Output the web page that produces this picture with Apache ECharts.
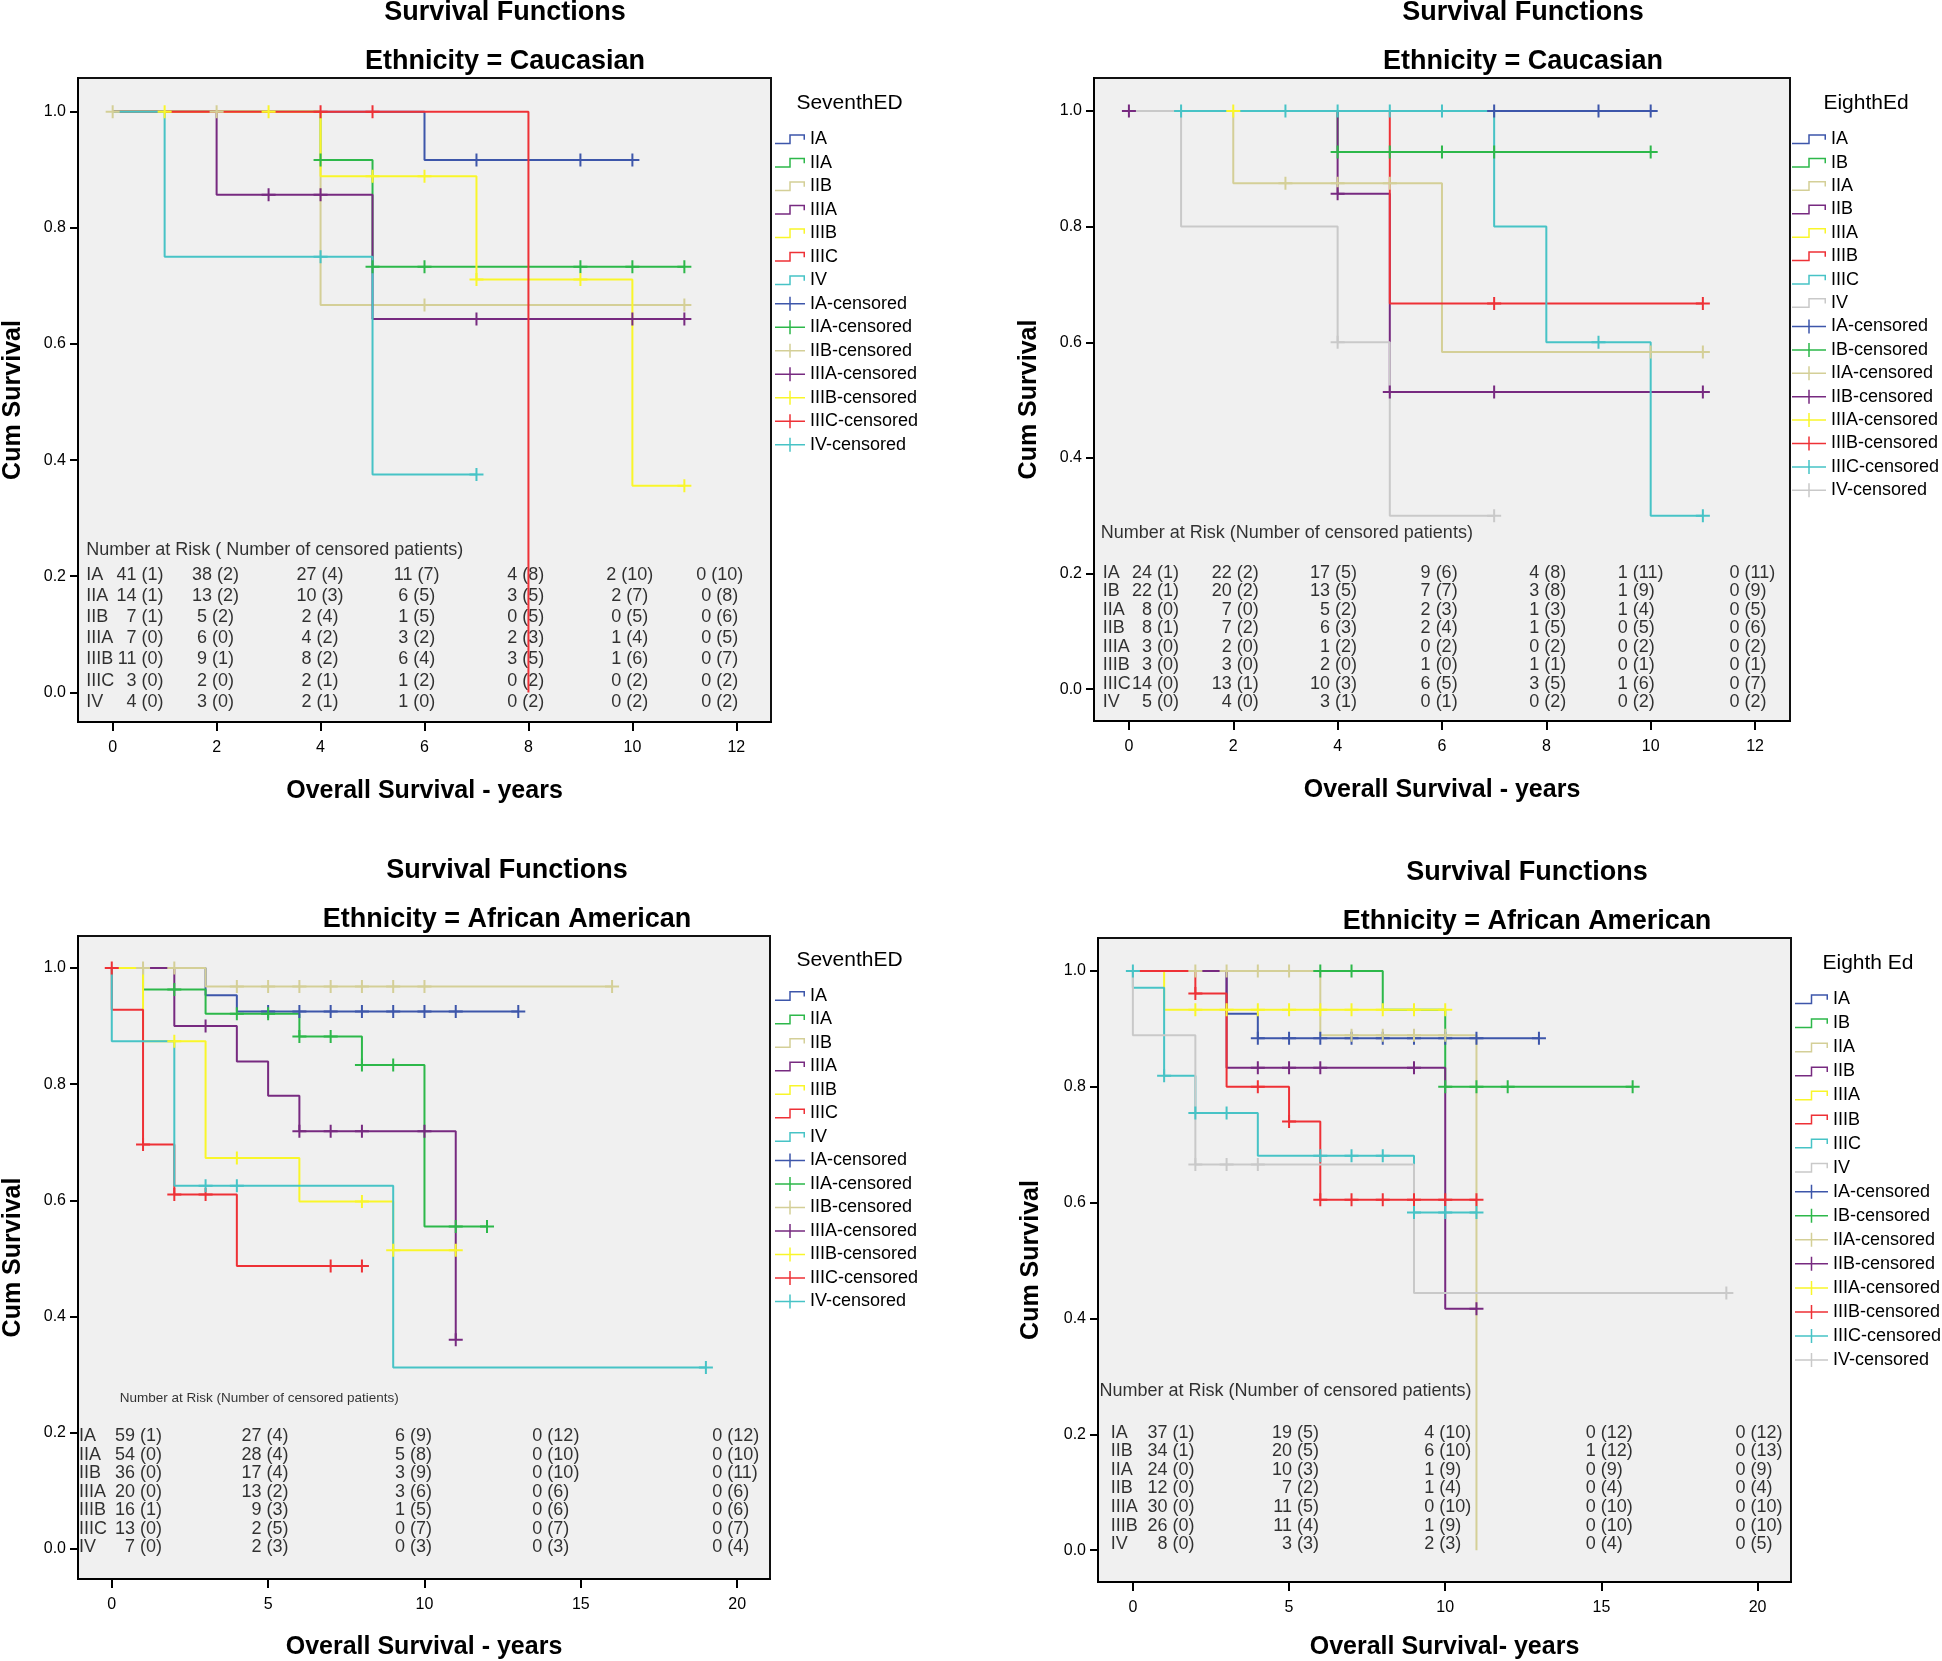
<!DOCTYPE html>
<html><head><meta charset="utf-8">
<script src="https://cdn.jsdelivr.net/npm/echarts@6/dist/echarts.min.js"></script>
<style>html,body{margin:0;padding:0;background:#fff}#c{width:1942px;height:1661px}</style>
</head><body><div id="c"></div>
<script>
// ================= DATA =================
// Panel 1: Ethnicity = Caucasian, SeventhED
const cauc7Stages = ['IA','IIA','IIB','IIIA','IIIB','IIIC','IV'];
const cauc7Curves = [
  [[0,1],[6,0.917],[10,0.917]],
  [[0,1],[4,0.917],[5,0.733],[11,0.733]],
  [[0,1],[4,0.667],[11,0.667]],
  [[0,1],[2,0.857],[5,0.643],[11,0.643]],
  [[0,1],[4,0.889],[7,0.711],[10,0.356],[11,0.356]],
  [[0,1],[8,1],[8,0]],
  [[0,1],[1,0.75],[5,0.375],[7,0.375]]
];
const cauc7Censored = [
  [[7,0.917],[9,0.917],[10,0.917]],
  [[4,0.917],[5,0.733],[6,0.733],[9,0.733],[10,0.733],[11,0.733]],
  [[0,1],[2,1],[6,0.667],[11,0.667]],
  [[3,0.857],[4,0.857],[7,0.643],[10,0.643],[11,0.643]],
  [[1,1],[3,1],[5,0.889],[6,0.889],[7,0.711],[9,0.711],[11,0.356]],
  [[4,1],[5,1]],
  [[4,0.75],[7,0.375]]
];
const cauc7RiskHeader = 'Number at Risk ( Number of censored patients)';
const cauc7RiskRows = ['IA','IIA','IIB','IIIA','IIIB','IIIC','IV'];
const cauc7Risk = [
  ['41 (1)','38 (2)','27 (4)','11 (7)','4 (8)','2 (10)','0 (10)'],
  ['14 (1)','13 (2)','10 (3)','6 (5)','3 (5)','2 (7)','0 (8)'],
  ['7 (1)','5 (2)','2 (4)','1 (5)','0 (5)','0 (5)','0 (6)'],
  ['7 (0)','6 (0)','4 (2)','3 (2)','2 (3)','1 (4)','0 (5)'],
  ['11 (0)','9 (1)','8 (2)','6 (4)','3 (5)','1 (6)','0 (7)'],
  ['3 (0)','2 (0)','2 (1)','1 (2)','0 (2)','0 (2)','0 (2)'],
  ['4 (0)','3 (0)','2 (1)','1 (0)','0 (2)','0 (2)','0 (2)']
];
const cauc7XTicks = [0,2,4,6,8,10,12];

// Panel 2: Ethnicity = Caucasian, EighthEd
const cauc8Stages = ['IA','IB','IIA','IIB','IIIA','IIIB','IIIC','IV'];
const cauc8Curves = [
  [[0,1],[10,1]],
  [[0,1],[4,0.929],[10,0.929]],
  [[0,1],[2,0.875],[6,0.583],[11,0.583]],
  [[0,1],[4,0.857],[5,0.514],[11,0.514]],
  [[0,1],[2,1]],
  [[0,1],[5,0.667],[11,0.667]],
  [[0,1],[7,0.8],[8,0.6],[10,0.3],[11,0.3]],
  [[0,1],[1,0.8],[4,0.6],[5,0.3],[7,0.3]]
];
const cauc8Censored = [
  [[7,1],[9,1],[10,1]],
  [[4,0.929],[5,0.929],[6,0.929],[7,0.929],[10,0.929]],
  [[3,0.875],[4,0.875],[5,0.875],[10,0.583],[11,0.583]],
  [[0,1],[4,0.857],[5,0.514],[7,0.514],[11,0.514]],
  [[2,1]],
  [[7,0.667],[11,0.667]],
  [[1,1],[3,1],[4,1],[5,1],[6,1],[9,0.6],[11,0.3]],
  [[4,0.6],[7,0.3]]
];
const cauc8RiskHeader = 'Number at Risk (Number of censored patients)';
const cauc8RiskRows = ['IA','IB','IIA','IIB','IIIA','IIIB','IIIC','IV'];
const cauc8Risk = [
  ['24 (1)','22 (2)','17 (5)','9 (6)','4 (8)','1 (11)','0 (11)'],
  ['22 (1)','20 (2)','13 (5)','7 (7)','3 (8)','1 (9)','0 (9)'],
  ['8 (0)','7 (0)','5 (2)','2 (3)','1 (3)','1 (4)','0 (5)'],
  ['8 (1)','7 (2)','6 (3)','2 (4)','1 (5)','0 (5)','0 (6)'],
  ['3 (0)','2 (0)','1 (2)','0 (2)','0 (2)','0 (2)','0 (2)'],
  ['3 (0)','3 (0)','2 (0)','1 (0)','1 (1)','0 (1)','0 (1)'],
  ['14 (0)','13 (1)','10 (3)','6 (5)','3 (5)','1 (6)','0 (7)'],
  ['5 (0)','4 (0)','3 (1)','0 (1)','0 (2)','0 (2)','0 (2)']
];
const cauc8XTicks = [0,2,4,6,8,10,12];

// Panel 3: Ethnicity = African American, SeventhED
const afam7Stages = ['IA','IIA','IIB','IIIA','IIIB','IIIC','IV'];
const afam7Curves = [
  [[0,1],[3,0.953],[4,0.925],[13,0.925]],
  [[0,1],[1,0.963],[3,0.921],[6,0.882],[8,0.833],[10,0.555],[12,0.555]],
  [[0,1],[3,0.968],[16,0.968]],
  [[0,1],[2,0.9],[4,0.839],[5,0.78],[6,0.719],[11,0.36]],
  [[0,1],[1,0.874],[3,0.673],[6,0.598],[9,0.514],[11,0.514]],
  [[0,1],[0,0.928],[1,0.696],[2,0.61],[4,0.487],[8,0.487]],
  [[0,1],[0,0.874],[2,0.625],[9,0.312],[19,0.312]]
];
const afam7Censored = [
  [[5,0.925],[6,0.925],[7,0.925],[8,0.925],[9,0.925],[10,0.925],[11,0.925],[13,0.925]],
  [[2,0.963],[4,0.921],[5,0.921],[6,0.882],[7,0.882],[8,0.833],[9,0.833],[11,0.555],[12,0.555]],
  [[1,1],[2,1],[4,0.968],[5,0.968],[6,0.968],[7,0.968],[8,0.968],[9,0.968],[10,0.968],[16,0.968]],
  [[3,0.9],[6,0.719],[7,0.719],[8,0.719],[10,0.719],[11,0.36]],
  [[2,0.874],[4,0.673],[8,0.598],[9,0.514],[11,0.514]],
  [[0,1],[1,0.696],[2,0.61],[3,0.61],[7,0.487],[8,0.487]],
  [[3,0.625],[4,0.625],[19,0.312]]
];
const afam7RiskHeader = 'Number at Risk (Number of censored patients)';
const afam7RiskRows = ['IA','IIA','IIB','IIIA','IIIB','IIIC','IV'];
const afam7Risk = [
  ['59 (1)','27 (4)','6 (9)','0 (12)','0 (12)'],
  ['54 (0)','28 (4)','5 (8)','0 (10)','0 (10)'],
  ['36 (0)','17 (4)','3 (9)','0 (10)','0 (11)'],
  ['20 (0)','13 (2)','3 (6)','0 (6)','0 (6)'],
  ['16 (1)','9 (3)','1 (5)','0 (6)','0 (6)'],
  ['13 (0)','2 (5)','0 (7)','0 (7)','0 (7)'],
  ['7 (0)','2 (3)','0 (3)','0 (3)','0 (4)']
];
const afam7XTicks = [0,5,10,15,20];

// Panel 4: Ethnicity = African American, Eighth Ed
const afam8Stages = ['IA','IB','IIA','IIB','IIIA','IIIB','IIIC','IV'];
const afam8Curves = [
  [[0,1],[3,0.926],[4,0.884],[13,0.884]],
  [[0,1],[8,0.933],[10,0.8],[16,0.8]],
  [[0,1],[6,0.889],[11,0.889],[11,0]],
  [[0,1],[3,0.833],[10,0.417],[11,0.417]],
  [[0,1],[1,0.933],[10,0.933]],
  [[0,1],[2,0.961],[3,0.8],[5,0.74],[6,0.605],[11,0.605]],
  [[0,1],[0,0.971],[1,0.819],[2,0.755],[4,0.681],[9,0.583],[11,0.583]],
  [[0,1],[0,0.889],[2,0.666],[9,0.444],[19,0.444]]
];
const afam8Censored = [
  [[4,0.884],[5,0.884],[6,0.884],[7,0.884],[8,0.884],[9,0.884],[10,0.884],[11,0.884],[13,0.884]],
  [[6,1],[7,1],[10,0.8],[11,0.8],[12,0.8],[16,0.8]],
  [[2,1],[3,1],[4,1],[5,1],[7,0.889],[8,0.889],[9,0.889],[10,0.889]],
  [[4,0.833],[5,0.833],[6,0.833],[9,0.833],[11,0.417]],
  [[2,0.933],[3,0.933],[4,0.933],[5,0.933],[6,0.933],[7,0.933],[8,0.933],[9,0.933],[10,0.933]],
  [[2,0.961],[4,0.8],[5,0.74],[6,0.605],[7,0.605],[8,0.605],[9,0.605],[10,0.605],[11,0.605]],
  [[0,1],[1,0.819],[2,0.755],[3,0.755],[6,0.681],[7,0.681],[8,0.681],[9,0.583],[10,0.583],[11,0.583]],
  [[2,0.666],[3,0.666],[4,0.666],[19,0.444]]
];
const afam8RiskHeader = 'Number at Risk (Number of censored patients)';
const afam8RiskRows = ['IA','IIB','IIA','IIB','IIIA','IIIB','IV'];
const afam8Risk = [
  ['37 (1)','19 (5)','4 (10)','0 (12)','0 (12)'],
  ['34 (1)','20 (5)','6 (10)','1 (12)','0 (13)'],
  ['24 (0)','10 (3)','1 (9)','0 (9)','0 (9)'],
  ['12 (0)','7 (2)','1 (4)','0 (4)','0 (4)'],
  ['30 (0)','11 (5)','0 (10)','0 (10)','0 (10)'],
  ['26 (0)','11 (4)','1 (9)','0 (10)','0 (10)'],
  ['8 (0)','3 (3)','2 (3)','0 (4)','0 (5)']
];
const afam8XTicks = [0,5,10,15,20];

const yTicks = [0, 0.2, 0.4, 0.6, 0.8, 1.0];

// ================= STYLE / LAYOUT =================
const FONT = '"Liberation Sans", Arial, Helvetica, sans-serif';
const C = {blue:'#3d56aa', green:'#2db84a', tan:'#d4cf97', purple:'#772a80', yellow:'#f9f62a', red:'#ee3136', cyan:'#47c3c6', gray:'#c9c9c9'};
const pal7 = [C.blue, C.green, C.tan, C.purple, C.yellow, C.red, C.cyan];
const pal8 = [C.blue, C.green, C.tan, C.purple, C.yellow, C.red, C.cyan, C.gray];
const CENS_SYM = 'path://M0,5.5L14,5.5L14,7.5L0,7.5Z M6,0L8,0L8,13L6,13Z';
function stepIcon(w){const a=w/2-0.75,b=w/2+0.75;return `path://M0,8.5L${a},8.5L${a},0L${w},0L${w},5.5L${w-1.5},5.5L${w-1.5},1.5L${b},1.5L${b},10L0,10Z`;}
function censIcon(w){const a=w/2-0.75,b=w/2+0.75;return `path://M0,6.25L${w},6.25L${w},7.75L0,7.75Z M${a},0L${b},0L${b},14L${a},14Z`;}

const panels = [
  {id:'p1', stages:cauc7Stages, curves:cauc7Curves, cens:cauc7Censored, pal:pal7,
   rHeader:cauc7RiskHeader, rRows:cauc7RiskRows, rVals:cauc7Risk, xt:cauc7XTicks,
   grid:[77,78,694,644], xr:[-0.667,12.667], yr:[-0.051,1.058],
   titles:['Survival Functions','Ethnicity = Caucasian'], tx:505, ty:[13,61.5],
   xName:'Overall Survival - years', xGap:57, yGap:52,
   legTitle:'SeventhED', ltx:849.5, lty:103.5, leg:{left:775, c0:139.3, step:23.5, w:30},
   risk:{hx:-0.51, hy:0.2455, hSize:18, size:18, lx:-0.51, y0:0.2024, dy:0.0364,
         cols:[[0.977,'right'],[1.98,'center'],[3.99,'center'],[5.85,'center'],[7.95,'center'],[9.95,'center'],[11.68,'center']]}},
  {id:'p2', stages:cauc8Stages, curves:cauc8Curves, cens:cauc8Censored, pal:pal8,
   rHeader:cauc8RiskHeader, rRows:cauc8RiskRows, rVals:cauc8Risk, xt:cauc8XTicks,
   grid:[1094,78,696,643], xr:[-0.669,12.67], yr:[-0.055,1.057],
   titles:['Survival Functions','Ethnicity = Caucasian'], tx:1523, ty:[13,61.5],
   xName:'Overall Survival - years', xGap:57, yGap:52,
   legTitle:'EighthEd', ltx:1866, lty:103.5, leg:{left:1792, c0:139.3, step:23.4, w:34},
   risk:{hx:-0.54, hy:0.2708, hSize:18, size:18, lx:-0.5, y0:0.2017, dy:0.0321,
         cols:[[0.96,'right'],[2.49,'right'],[4.37,'right'],[6.3,'right'],[8.38,'right'],[9.37,'left'],[11.51,'left']]}},
  {id:'p3', stages:afam7Stages, curves:afam7Curves, cens:afam7Censored, pal:pal7,
   rHeader:afam7RiskHeader, rRows:afam7RiskRows, rVals:afam7Risk, xt:afam7XTicks,
   grid:[77,936,693,643], xr:[-1.08,21.05], yr:[-0.052,1.055],
   titles:['Survival Functions','Ethnicity = African American'], tx:507, ty:[871,919.5],
   xName:'Overall Survival - years', xGap:56, yGap:52,
   legTitle:'SeventhED', ltx:849.5, lty:960, leg:{left:775, c0:996, step:23.5, w:30},
   risk:{hx:0.255, hy:0.2585, hSize:13.5, size:18, lx:-1.05, y0:0.1936, dy:0.0319,
         cols:[[1.61,'right'],[5.65,'right'],[10.24,'right'],[13.45,'left'],[19.2,'left']]}},
  {id:'p4', stages:afam8Stages, curves:afam8Curves, cens:afam8Censored, pal:pal8,
   rHeader:afam8RiskHeader, rRows:afam8RiskRows, rVals:afam8Risk, xt:afam8XTicks,
   grid:[1098,938,693,644], xr:[-1.117,21.07], yr:[-0.055,1.057],
   titles:['Survival Functions','Ethnicity = African American'], tx:1527, ty:[873,921.5],
   xName:'Overall Survival- years', xGap:53, yGap:54,
   legTitle:'Eighth Ed', ltx:1868, lty:963, leg:{left:1795, c0:999.3, step:24.05, w:33},
   risk:{hx:-1.07, hy:0.275, hSize:18, size:18, lx:-0.71, y0:0.203, dy:0.0321,
         cols:[[1.97,'right'],[5.96,'right'],[9.33,'left'],[14.5,'left'],[19.29,'left']]}}
];

const option = {animation:false, backgroundColor:'#ffffff', grid:[], xAxis:[], yAxis:[], series:[], legend:[], graphic:[]};

panels.forEach((p, i) => {
  option.grid.push({left:p.grid[0], top:p.grid[1], width:p.grid[2], height:p.grid[3], show:true,
    backgroundColor:'#f0f0f0', borderColor:'#111', borderWidth:2});
  option.xAxis.push({type:'value', gridIndex:i, min:p.xr[0], max:p.xr[1],
    name:p.xName, nameLocation:'middle', nameGap:p.xGap,
    nameTextStyle:{fontFamily:FONT, fontSize:25, fontWeight:'bold', color:'#000'},
    axisLine:{show:true, onZero:false, lineStyle:{color:'#000', width:2}},
    axisTick:{show:true, customValues:p.xt, length:9, lineStyle:{color:'#000', width:2}},
    axisLabel:{show:true, customValues:p.xt, margin:18, fontFamily:FONT, fontSize:16, color:'#000'},
    splitLine:{show:false}});
  option.yAxis.push({type:'value', gridIndex:i, min:p.yr[0], max:p.yr[1],
    name:'Cum Survival', nameLocation:'middle', nameGap:p.yGap, nameRotate:90,
    nameTextStyle:{fontFamily:FONT, fontSize:25, fontWeight:'bold', color:'#000'},
    axisLine:{show:true, onZero:false, lineStyle:{color:'#000', width:2}},
    axisTick:{show:true, customValues:yTicks, length:8, lineStyle:{color:'#000', width:2}},
    axisLabel:{show:true, customValues:yTicks, margin:12, fontFamily:FONT, fontSize:16, color:'#000',
      formatter: v => Number(v).toFixed(1)},
    splitLine:{show:false}});

  // number-at-risk table (text placed on the panel's own axes)
  const rd = [];
  rd.push({value:[p.risk.hx, p.risk.hy], t:p.rHeader, label:{align:'left', fontSize:p.risk.hSize}});
  p.rRows.forEach((lab, r) => {
    const y = p.risk.y0 - r * p.risk.dy;
    rd.push({value:[p.risk.lx, y], t:lab, label:{align:'left'}});
    p.rVals[r].forEach((txt, c) => {
      const col = p.risk.cols[c];
      rd.push({value:[col[0], y], t:txt, label:{align:col[1]}});
    });
  });
  option.series.push({type:'scatter', xAxisIndex:i, yAxisIndex:i, symbol:'circle', symbolSize:1,
    itemStyle:{color:'rgba(0,0,0,0)'}, silent:true, clip:false, z:1,
    label:{show:true, position:'inside', formatter:q => q.data.t, fontFamily:FONT, fontSize:p.risk.size,
      color:'#000', verticalAlign:'middle'},
    data:rd});

  // survival step curves
  p.curves.forEach((d, k) => {
    option.series.push({type:'line', name:p.id + ':' + p.stages[k], xAxisIndex:i, yAxisIndex:i,
      data:d, step:'end', symbol:'none', silent:true, z:3,
      lineStyle:{color:p.pal[k], width:2}, itemStyle:{color:p.pal[k]}});
  });
  // censored marks
  p.cens.forEach((d, k) => {
    option.series.push({type:'scatter', name:p.id + ':' + p.stages[k] + '-censored', xAxisIndex:i, yAxisIndex:i,
      data:d, symbol:CENS_SYM, symbolSize:[14,13], silent:true, z:4,
      itemStyle:{color:p.pal[k], opacity:1}});
  });

  // legend
  const ld = [];
  p.stages.forEach((s, k) => ld.push({name:p.id + ':' + s, icon:stepIcon(p.leg.w), itemStyle:{color:p.pal[k], borderWidth:0}}));
  p.stages.forEach((s, k) => ld.push({name:p.id + ':' + s + '-censored', icon:censIcon(p.leg.w), itemStyle:{color:p.pal[k], borderWidth:0}}));
  option.legend.push({orient:'vertical', left:p.leg.left, top:p.leg.c0 - 9, padding:0,
    itemWidth:p.leg.w, itemHeight:14, itemGap:p.leg.step - 18, selectedMode:false,
    itemStyle:{borderWidth:0},
    textStyle:{fontFamily:FONT, fontSize:18, color:'#000', lineHeight:18},
    formatter:n => n.split(':')[1], data:ld});

  // titles
  option.graphic.push({type:'text', x:p.tx, y:p.ty[0], silent:true,
    style:{text:p.titles[0], font:'bold 27px ' + FONT, fill:'#000', align:'center', verticalAlign:'middle'}});
  option.graphic.push({type:'text', x:p.tx, y:p.ty[1], silent:true,
    style:{text:p.titles[1], font:'bold 27px ' + FONT, fill:'#000', align:'center', verticalAlign:'middle'}});
  option.graphic.push({type:'text', x:p.ltx, y:p.lty, silent:true,
    style:{text:p.legTitle, font:'21px ' + FONT, fill:'#000', align:'center', verticalAlign:'middle'}});
});

const chart = echarts.init(document.getElementById('c'), null, {renderer:'canvas'});
chart.setOption(option);
</script>
</body></html>
